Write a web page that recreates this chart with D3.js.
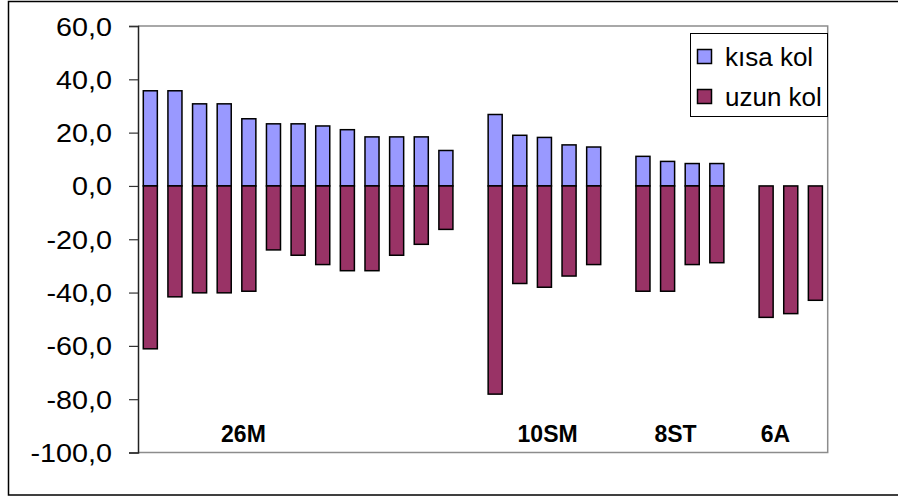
<!DOCTYPE html>
<html>
<head>
<meta charset="utf-8">
<script src="https://cdn.jsdelivr.net/npm/d3@7"></script>
<style>
  html, body { margin: 0; padding: 0; background: #fff; }
  svg { display: block; }
</style>
</head>
<body>
<svg id="chart" width="898" height="498"></svg>
<script>
// Group names and how many bars each group holds
const groupNames = ["26M", "10SM", "8ST", "6A"];
const groupSizes = [13, 5, 4, 3];

// Series values, one per bar, in group order
const kisaKol = [35.7, 35.7, 30.8, 30.8, 25.2, 23.3, 23.3, 22.5, 21.1, 18.4, 18.4, 18.4, 13.3,
                 26.8, 19.0, 18.2, 15.4, 14.6,
                 11.1, 9.2, 8.4, 8.4,
                 0, 0, 0];
const uzunKol = [-61.1, -41.6, -40.1, -40.1, -39.5, -24.0, -26.0, -29.5, -31.8, -31.8, -26.0, -21.9, -16.3,
                 -78.1, -36.6, -38.0, -33.8, -29.5,
                 -39.5, -39.5, -29.5, -28.8,
                 -49.3, -47.9, -42.9];

const seriesNames = ["kısa kol", "uzun kol"];
const seriesColors = ["#9999FF", "#993366"];

// Y axis ticks
const yTicks = [60, 40, 20, 0, -20, -40, -60, -80, -100];

// Group label anchor, in slot units along the category axis
const groupLabelSlot = [3.78, 16.13, 21.32, 25.38];

// Build slot list: bars of each group, then one empty slot between groups
const slots = [];
const bars = [];
let k = 0;
groupNames.forEach((g, gi) => {
  for (let i = 0; i < groupSizes[gi]; i++) {
    const key = g + "-" + (i + 1);
    slots.push(key);
    bars.push({ key, group: g, kisa: kisaKol[k], uzun: uzunKol[k] });
    k++;
  }
  if (gi < groupNames.length - 1) slots.push("gap-" + gi);
});

const svg = d3.select("#chart");

// Plot area
const plot = { left: 138, right: 827.7, top: 26, bottom: 452.5 };

const x = d3.scaleBand()
  .domain(slots)
  .range([plot.left, plot.right])
  .paddingInner(0.43)
  .paddingOuter(0.215);

const y = d3.scaleLinear()
  .domain([-100, 60])
  .range([plot.bottom, plot.top]);

// Outer chart frame (right edge runs past the viewport)
svg.append("rect")
  .attr("x", 8.5).attr("y", 1.5)
  .attr("width", 910).attr("height", 493.5)
  .attr("fill", "#fff")
  .attr("stroke", "#000").attr("stroke-width", 1.5);

// Plot area border: top, right, bottom in gray
const border = svg.append("g").attr("stroke", "#8c8c8c").attr("stroke-width", 1.5).attr("fill", "none");
border.append("path")
  .attr("d", `M${plot.left},${y(60)}H${plot.right}V${y(-100)}H${plot.left}`);

// Y axis
const yAxis = d3.axisLeft(y)
  .tickValues(yTicks)
  .tickSize(9)
  .tickPadding(6)
  .tickFormat(v => v.toFixed(1).replace(".", ","));

const yG = svg.append("g")
  .attr("transform", `translate(${plot.left},0)`)
  .call(yAxis);
yG.select(".domain").attr("stroke", "#222").attr("stroke-width", 1.5);
yG.selectAll(".tick line").attr("stroke", "#333").attr("stroke-width", 1.2);
yG.selectAll(".tick text")
  .attr("font-family", "'Liberation Sans', Arial, sans-serif")
  .attr("font-size", 25)
  .attr("fill", "#000")
  .attr("x", null)
  .attr("dy", "0.36em")
  .attr("transform", "translate(-26,0) scale(1.15,1)");

// Bars
const barG = svg.append("g").attr("stroke", "#000").attr("stroke-width", 1.5);

barG.selectAll("rect.kisa")
  .data(bars.filter(d => d.kisa > 0))
  .join("rect")
  .attr("class", "kisa")
  .attr("x", d => x(d.key))
  .attr("width", x.bandwidth())
  .attr("y", d => y(d.kisa))
  .attr("height", d => y(0) - y(d.kisa))
  .attr("fill", seriesColors[0]);

barG.selectAll("rect.uzun")
  .data(bars)
  .join("rect")
  .attr("class", "uzun")
  .attr("x", d => x(d.key))
  .attr("width", x.bandwidth())
  .attr("y", y(0))
  .attr("height", d => y(d.uzun) - y(0))
  .attr("fill", seriesColors[1]);

// Group labels inside the plot
const slotX = s => plot.left + x.step() * (x.paddingOuter() - x.paddingInner() / 2) + x.step() * (s + 0.5);
svg.append("g")
  .selectAll("text")
  .data(groupNames)
  .join("text")
  .attr("x", (d, i) => slotX(groupLabelSlot[i]))
  .attr("y", 442)
  .attr("text-anchor", "middle")
  .attr("font-family", "'Liberation Sans', Arial, sans-serif")
  .attr("font-weight", "bold")
  .attr("font-size", 23)
  .attr("fill", "#000")
  .text(d => d);

// Legend
const legend = svg.append("g").attr("transform", "translate(690.5,33.5)");
legend.append("rect")
  .attr("width", 137).attr("height", 83)
  .attr("fill", "#fff")
  .attr("stroke", "#000").attr("stroke-width", 1);

const item = legend.selectAll("g.item")
  .data(seriesNames)
  .join("g")
  .attr("class", "item")
  .attr("transform", (d, i) => `translate(0,${16 + i * 40})`);

item.append("rect")
  .attr("x", 7).attr("y", 0)
  .attr("width", 14).attr("height", 14)
  .attr("fill", (d, i) => seriesColors[i])
  .attr("stroke", "#000").attr("stroke-width", 1.5);

item.append("text")
  .attr("x", 34.5).attr("y", 16)
  .attr("font-family", "'Liberation Sans', Arial, sans-serif")
  .attr("font-size", 26)
  .attr("fill", "#000")
  .text(d => d);
</script>
</body>
</html>
